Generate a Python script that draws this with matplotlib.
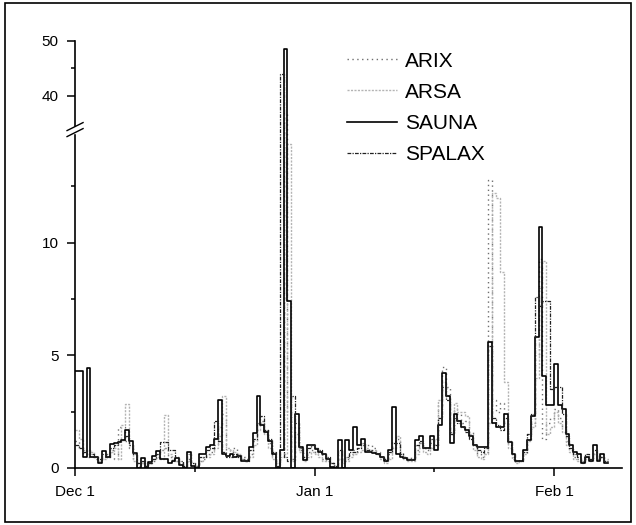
import numpy as np
import pandas as pd
import matplotlib
matplotlib.use("Agg")
import matplotlib.pyplot as plt
import matplotlib.dates as mdates
from matplotlib.patches import Rectangle

plt.rcParams['font.family'] = ['Liberation Sans', 'DejaVu Sans']

# half-day values, starting Dec 1
sauna = [4.3, 4.3, 0.5, 4.45, 0.5, 0.5, 0.2, 0.75, 0.5, 1.05,
         1.1, 1.15, 1.25, 1.7, 1.2, 0.65, 0.0, 0.45, 0.0, 0.25,
         0.55, 0.75, 0.4, 0.4, 0.2, 0.3, 0.45, 0.15, 0.0, 0.7,
         0.1, 0.0, 0.6, 0.6, 0.95, 1.0, 1.3, 3.0, 0.6, 0.55,
         0.6, 0.5, 0.55, 0.3, 0.3, 0.95, 1.55, 3.2, 1.9, 1.6,
         1.2, 0.6, 0.0, 0.8, 48.5, 7.4, 0.0, 2.4, 0.95, 0.35,
         1.0, 1.0, 0.85, 0.7, 0.6, 0.4, 0.05, 0.0, 1.25, 0.0,
         1.25, 0.8, 1.8, 1.0, 1.3, 0.7, 0.7, 0.65, 0.6, 0.5,
         0.3, 0.8, 2.7, 0.6, 0.5, 0.45, 0.35, 0.35, 1.25, 1.4,
         0.9, 0.9, 1.4, 0.8, 1.9, 4.2, 3.2, 1.1, 2.4, 2.1,
         1.8, 1.7, 1.4, 1.0, 0.95, 0.95, 0.95, 5.6, 2.0, 1.8,
         1.8, 2.4, 1.15, 0.6, 0.3, 0.3, 0.8, 1.25, 2.3, 5.8,
         10.7, 4.1, 2.8, 2.8, 4.6, 2.8, 2.6, 1.5, 1.0, 0.7,
         0.6, 0.2, 0.5, 0.3, 1.0, 0.3, 0.6, 0.2]

spalax = [1.0, 0.9, 0.7, 0.8, 0.6, 0.5, 0.4, 0.6, 0.5, 0.9,
          1.0, 1.2, 1.25, 1.4, 1.0, 0.6, 0.2, 0.3, 0.1, 0.2,
          0.4, 0.6, 1.15, 1.15, 0.8, 0.8, 0.5, 0.3, 0.1, 0.6,
          0.2, 0.1, 0.5, 0.5, 0.8, 0.9, 2.1, 1.2, 0.7, 0.5,
          0.5, 0.6, 0.5, 0.4, 0.3, 0.8, 1.3, 2.0, 2.3, 1.7,
          1.3, 0.7, 0.1, 44.0, 0.5, 0.3, 3.2, 2.0, 0.9, 0.5,
          0.9, 1.0, 0.9, 0.8, 0.6, 0.5, 0.2, 0.1, 0.8, 0.3,
          0.5, 0.7, 0.7, 0.9, 1.1, 0.8, 0.8, 0.7, 0.6, 0.5,
          0.4, 0.7, 1.1, 1.1, 0.6, 0.5, 0.4, 0.4, 1.0, 1.2,
          0.9, 0.9, 1.3, 1.0, 2.2, 3.6, 3.0, 1.5, 2.2, 2.0,
          1.8, 1.6, 1.3, 1.0, 0.8, 0.7, 0.9, 5.4, 2.2, 1.9,
          1.7, 2.2, 1.2, 0.6, 0.3, 0.3, 0.7, 1.5, 2.4, 7.6,
          7.2, 7.4, 7.4, 3.5, 3.6, 3.6, 2.4, 1.4, 0.9, 0.6,
          0.5, 0.3, 0.6, 0.4, 0.8, 0.4, 0.5, 0.3]

arix = [1.2, 0.9, 0.6, 0.5, 0.5, 0.4, 0.3, 0.5, 0.6, 0.8,
        0.4, 1.8, 1.8, 1.2, 0.9, 0.4, 0.2, 0.2, 0.1, 0.2,
        0.3, 0.5, 0.8, 0.9, 0.5, 0.4, 0.3, 0.2, 0.1, 0.4,
        0.2, 0.1, 0.3, 0.4, 0.6, 0.7, 1.0, 1.8, 2.4, 0.8,
        0.7, 0.9, 0.6, 0.5, 0.4, 0.6, 1.2, 2.0, 2.1, 1.7,
        1.1, 0.5, 0.2, 0.6, 37.0, 2.5, 0.4, 1.8, 0.8, 0.4,
        0.7, 0.8, 0.7, 0.6, 0.4, 0.3, 0.2, 0.1, 0.6, 0.3,
        0.4, 0.6, 0.8, 0.9, 1.0, 1.0, 1.0, 0.9, 0.7, 0.5,
        0.3, 0.6, 1.2, 1.3, 0.7, 0.5, 0.4, 0.5, 0.8, 1.1,
        0.9, 0.8, 1.1, 1.0, 2.8, 4.5, 3.6, 1.6, 2.6, 2.4,
        2.0, 2.1, 1.6, 1.0, 0.6, 0.5, 0.7, 12.8, 3.0, 2.5,
        2.9, 2.0, 1.0, 0.5, 0.3, 0.4, 0.8, 1.5, 2.0, 5.0,
        9.3, 1.3, 2.0, 2.2, 2.6, 2.2, 1.8, 1.2, 0.8, 0.5,
        0.4, 0.3, 0.5, 0.4, 0.7, 0.5, 0.6, 0.4]

arsa = [1.7, 1.3, 0.8, 0.6, 0.7, 0.5, 0.3, 0.4, 0.5, 0.7,
        0.9, 0.4, 1.9, 2.85, 1.0, 0.3, 0.1, 0.2, 0.0, 0.2,
        0.4, 0.5, 0.4, 2.35, 0.6, 0.3, 0.3, 0.2, 0.1, 0.3,
        0.1, 0.1, 0.3, 0.5, 0.5, 0.6, 0.9, 1.4, 3.2, 0.9,
        0.8, 0.7, 0.6, 0.4, 0.3, 0.5, 1.0, 1.7, 2.0, 1.5,
        0.9, 0.4, 0.2, 0.5, 0.6, 14.4, 0.3, 1.5, 0.7, 0.3,
        0.5, 0.7, 0.6, 0.5, 0.3, 0.3, 0.2, 0.1, 0.4, 0.2,
        0.3, 0.5, 0.6, 0.7, 0.8, 0.9, 0.8, 0.8, 0.6, 0.4,
        0.2, 0.4, 0.9, 1.4, 0.6, 0.4, 0.3, 0.3, 0.6, 0.9,
        0.7, 0.6, 0.9, 1.3, 3.0, 3.8, 3.2, 1.5, 2.9, 2.5,
        2.5, 2.3, 1.5, 0.8, 0.5, 0.4, 0.6, 2.0, 12.2, 12.0,
        8.7, 3.8, 0.9, 0.4, 0.2, 0.3, 0.6, 1.2, 1.8, 4.0,
        8.0, 9.2, 1.5, 1.8, 2.5, 2.0, 1.6, 1.0, 0.7, 0.4,
        0.3, 0.2, 0.4, 0.3, 0.6, 0.4, 0.5, 0.3]

start = pd.Timestamp("1999-12-01")
tick_dates = ["1999-12-01", "2000-01-01", "2000-02-01"]
tick_labels = ["Dec 1", "Jan 1", "Feb 1"]
minor_dates = ["1999-12-16 12:00", "2000-01-16 12:00"]

# broken y axis: 0-15 normal, 15-34 squeezed, above 34 compressed
def fwd(v):
    v = np.asarray(v, dtype=float)
    return np.where(v <= 15, v,
                    np.where(v <= 34, 15 + (v - 15) * 0.05 / 19,
                             15.05 + (v - 34) * 0.2444))

def inv(u):
    u = np.asarray(u, dtype=float)
    return np.where(u <= 15, u,
                    np.where(u <= 15.05, 15 + (u - 15) * 19 / 0.05,
                             34 + (u - 15.05) / 0.2444))

fig = plt.figure(figsize=(6.36, 5.25), dpi=100)
ax = fig.add_axes([0.118, 0.1086, 0.86, 0.8134])
ax.set_yscale('function', functions=(fwd, inv))

def stepped(vals):
    t = pd.date_range(start, periods=len(vals) + 1, freq='12h')
    return mdates.date2num(t), list(vals) + [vals[-1]]

styles = [
    ("ARIX", arix, dict(color='#6e6e6e', lw=1.0, ls=(0, (1, 2.5)))),
    ("ARSA", arsa, dict(color='#b4b4b4', lw=1.0, ls=(0, (1.5, 1)))),
    ("SAUNA", sauna, dict(color='black', lw=1.2, ls='-')),
    ("SPALAX", spalax, dict(color='#222222', lw=0.9, ls=(0, (3, 1, 1, 1)))),
]
for name, vals, st in styles:
    x, y = stepped(vals)
    ax.step(x, y, where='post', label=name, **st)

x0 = mdates.date2num(start)
ax.set_xlim(x0, x0 + 70.8)
ax.set_ylim(0, 50)

ax.set_xticks(mdates.date2num(pd.to_datetime(tick_dates)))
ax.set_xticklabels(tick_labels)
ax.set_xticks(mdates.date2num(pd.to_datetime(minor_dates)), minor=True)
ax.set_yticks([0, 5, 10, 40, 50])
ax.set_yticklabels(["0", "5", "10", "40", "50"])
ax.set_yticks([2.5, 7.5, 12.5, 45], minor=True)
ax.yaxis.set_minor_formatter(plt.NullFormatter())

ax.tick_params(which='major', direction='out', length=6, width=1.1, labelsize=11, pad=6)
ax.tick_params(which='minor', direction='out', length=3, width=1.1)
for s in ['top', 'right']:
    ax.spines[s].set_visible(False)
for s in ['left', 'bottom']:
    ax.spines[s].set_linewidth(1.2)

# break marks
yb = float(fwd(24.5) / fwd(50))
dx, dy, g = 8 / 547, 4 / 427, 3 / 427
ax.add_patch(Rectangle((-0.006, yb - g), 0.012, 2 * g, transform=ax.transAxes,
                       color='white', clip_on=False, zorder=3))
for off in (-g, g):
    ax.plot([-dx, dx], [yb + off - dy, yb + off + dy], transform=ax.transAxes,
            color='black', lw=1.0, clip_on=False, zorder=4)

leg = ax.legend(loc='upper left', bbox_to_anchor=(0.497, 0.975), frameon=False,
                fontsize=15, handlelength=2.4, handletextpad=0.4,
                labelspacing=0.58, borderpad=0, borderaxespad=0)

fig.patches.append(Rectangle((5 / 636, 3 / 525), 626 / 636, 519 / 525,
                             transform=fig.transFigure, fill=False,
                             edgecolor='black', lw=1.2))

fig.savefig("out.png", dpi=100)
